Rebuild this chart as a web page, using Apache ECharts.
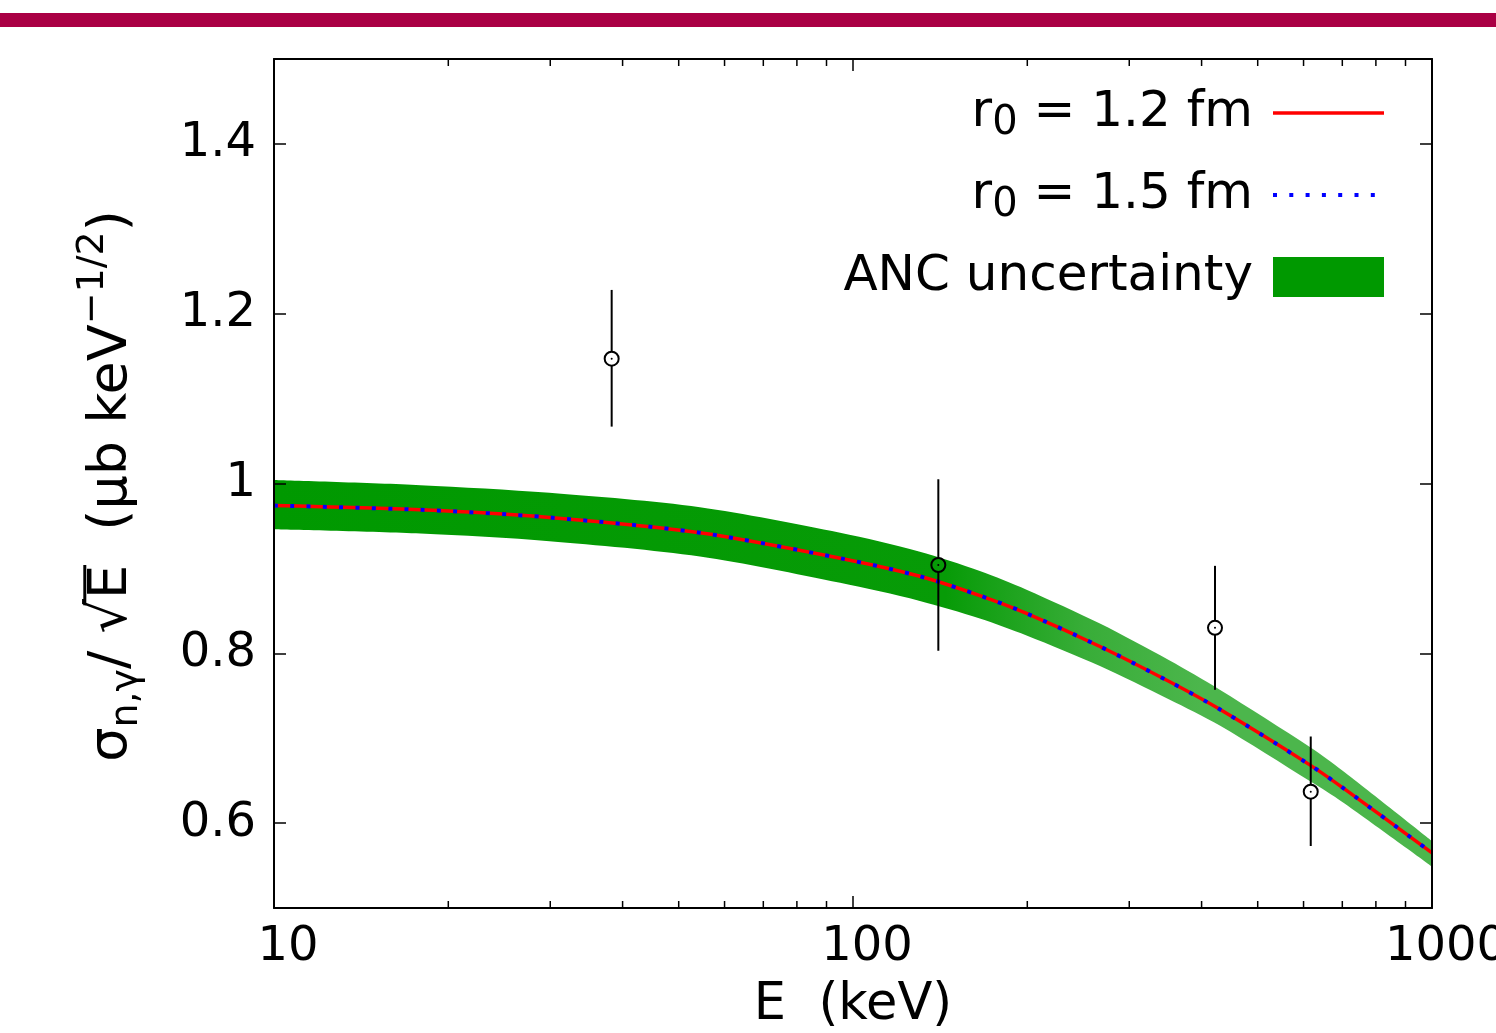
<!DOCTYPE html>
<html>
<head>
<meta charset="utf-8">
<script src="https://cdn.jsdelivr.net/npm/echarts@6/dist/echarts.min.js"></script>
<style>
html,body{margin:0;padding:0;background:#fff;}
#chart{width:1496px;height:1033px;}
</style>
</head>
<body>
<div id="chart"></div>
<script>
// ---- data ----
const energy    = [10, 17.9, 29.9, 54.4, 95, 130, 165.6, 199.4, 267, 351, 430, 617, 700, 1000];
const sigmaR12  = [0.974, 0.969, 0.960, 0.942, 0.912, 0.891, 0.868, 0.847, 0.808, 0.767, 0.734, 0.668, 0.642, 0.565];
const sigmaR15  = [0.974, 0.969, 0.960, 0.942, 0.912, 0.891, 0.868, 0.847, 0.808, 0.767, 0.734, 0.668, 0.642, 0.565];
const bandUpper = [1.004, 0.998, 0.989, 0.972, 0.942, 0.920, 0.897, 0.875, 0.835, 0.792, 0.757, 0.689, 0.662, 0.579];
const bandLower = [0.946, 0.941, 0.932, 0.914, 0.883, 0.862, 0.841, 0.821, 0.785, 0.746, 0.715, 0.649, 0.625, 0.549];

const expEnergy = [38.3, 140.4, 421.9, 617.4];
const expValue  = [1.147, 0.904, 0.830, 0.637];
const expLow    = [1.067, 0.803, 0.757, 0.573];
const expHigh   = [1.228, 1.005, 0.903, 0.702];

const xMinorTicks = [20, 30, 40, 50, 60, 70, 80, 90, 200, 300, 400, 500, 600, 700, 800, 900];
const yTicks = [0.6, 0.8, 1, 1.2, 1.4];

const legendLabels = ['1.2 fm', '1.5 fm', 'ANC uncertainty'];
const xTitle = 'E  (keV)';

// ---- helpers ----
const FONT = '"DejaVu Sans", sans-serif';
const mctx = document.createElement('canvas').getContext('2d');
function tw(t, s) { mctx.font = s + 'px "DejaVu Sans"'; return mctx.measureText(t).width; }

const chart = echarts.init(document.getElementById('chart'), null, {renderer: 'canvas'});

const X_MIN = 10, X_MAX = 1000, Y_MIN = 0.5, Y_MAX = 1.5;
const SMOOTH = 0.3;

// y-axis title, built from pieces (rotated group)
function buildYTitle() {
  const M = 54, S = 38;
  const parts = [
    {t: 'σ', s: M, dy: 0},
    {t: 'n,γ', s: S, dy: 11},
    {t: '/ ', s: M, dy: 0},
    {t: '√', s: M, dy: 0, root: true},
    {t: 'E', s: M, dy: 0, over: true},
    {t: '  (μb keV', s: M, dy: 0},
    {t: '−1/2', s: S, dy: -23},
    {t: ')', s: M, dy: 0}
  ];
  let total = 0;
  parts.forEach(p => { p.w = tw(p.t, p.s); total += p.w; });
  let x = -total / 2;
  const children = [];
  let overStart = 0, overEnd = 0;
  parts.forEach(p => {
    children.push({
      type: 'text',
      style: {
        text: p.t, x: x, y: p.dy - 0.3 * p.s,
        fontSize: p.s, fontFamily: FONT, fill: '#000',
        align: 'left', verticalAlign: 'middle',
        textAlign: 'left', textVerticalAlign: 'middle'
      }
    });
    if (p.root) overStart = x + p.w * 0.82;
    if (p.over) overEnd = x + p.w;
    x += p.w;
  });
  children.push({
    type: 'line',
    shape: {x1: overStart, y1: -0.80 * M, x2: overEnd, y2: -0.80 * M},
    style: {stroke: '#000', lineWidth: 3}
  });
  return {type: 'group', x: 128, y: 486, rotation: Math.PI / 2, children: children};
}

function legendText(label, y, withSub) {
  if (withSub) {
    return {
      type: 'text',
      style: {
        text: '{a|r}{b|0}{a| = ' + label + '}',
        x: 1253, y: y,
        align: 'right', verticalAlign: 'middle',
        textAlign: 'right', textVerticalAlign: 'middle',
        fill: '#000',
        rich: {
          a: {fontSize: 50, fontFamily: FONT, fill: '#000', color: '#000', height: 60, verticalAlign: 'middle'},
          b: {fontSize: 40, fontFamily: FONT, fill: '#000', color: '#000', height: 60, padding: [22, 0, 0, 0], verticalAlign: 'middle'}
        }
      }
    };
  }
  return {
    type: 'text',
    style: {
      text: label, x: 1253, y: y,
      fontSize: 50, fontFamily: FONT, fill: '#000',
      align: 'right', verticalAlign: 'middle',
      textAlign: 'right', textVerticalAlign: 'middle'
    }
  };
}

const bandColor = {
  type: 'linear', x: 0, y: 0, x2: 1, y2: 0,
  colorStops: [
    {offset: 0, color: '#009900'},
    {offset: 0.58, color: '#079b07'},
    {offset: 0.70, color: '#38ad38'},
    {offset: 0.80, color: '#4cb64c'},
    {offset: 1, color: '#4cb64c'}
  ]
};

const axisBase = {
  z: 10,
  axisLine: {show: true, onZero: false, lineStyle: {color: '#000', width: 2}},
  splitLine: {show: false}
};

const option = {
  animation: false,
  backgroundColor: '#ffffff',
  textStyle: {fontFamily: FONT},
  grid: {left: 274, right: 64, top: 59, bottom: 125, containLabel: false, outerBoundsMode: 'none'},
  xAxis: [
    Object.assign({}, axisBase, {
      type: 'log', logBase: 10, min: X_MIN, max: X_MAX, position: 'bottom',
      name: xTitle, nameLocation: 'middle', nameGap: 72,
      nameTextStyle: {fontSize: 51, fontFamily: FONT, color: '#000'},
      axisTick: {show: true, inside: true, length: 12, lineStyle: {color: '#000', width: 1.5}},
      axisLabel: {
        show: true, fontSize: 48, fontFamily: FONT, color: '#000', margin: 16,
        padding: [0, 0, 0, 28],
        formatter: v => String(Math.round(v))
      },
      minorTick: {show: false}
    }),
    Object.assign({}, axisBase, {
      type: 'log', logBase: 10, min: X_MIN, max: X_MAX, position: 'top',
      axisTick: {show: true, inside: true, length: 12, lineStyle: {color: '#000', width: 1.5}},
      axisLabel: {show: false}
    })
  ],
  yAxis: [
    Object.assign({}, axisBase, {
      type: 'value', min: Y_MIN, max: Y_MAX, position: 'left',
      axisTick: {show: true, inside: true, length: 12, customValues: yTicks, lineStyle: {color: '#000', width: 1.5}},
      axisLabel: {show: true, customValues: yTicks, fontSize: 48, fontFamily: FONT, color: '#000', margin: 18,
        formatter: v => String(Math.round(v * 10) / 10)}
    }),
    Object.assign({}, axisBase, {
      type: 'value', min: Y_MIN, max: Y_MAX, position: 'right',
      axisTick: {show: true, inside: true, length: 12, customValues: yTicks, lineStyle: {color: '#000', width: 1.5}},
      axisLabel: {show: false}
    })
  ],
  series: [
    {
      name: 'ANC upper',
      type: 'line',
      xAxisIndex: 0, yAxisIndex: 0,
      z: 1,
      data: energy.map((e, i) => [e, bandUpper[i]]),
      smooth: SMOOTH,
      showSymbol: false,
      lineStyle: {width: 0, color: 'transparent'},
      areaStyle: {color: bandColor, opacity: 1, origin: 'start'},
      silent: true
    },
    {
      name: 'ANC lower',
      type: 'line',
      xAxisIndex: 0, yAxisIndex: 0,
      z: 1.5,
      data: energy.map((e, i) => [e, bandLower[i]]),
      smooth: SMOOTH,
      showSymbol: false,
      lineStyle: {width: 0, color: 'transparent'},
      areaStyle: {color: '#ffffff', opacity: 1, origin: 'start'},
      silent: true
    },
    {
      name: 'r0 = 1.2 fm',
      type: 'line',
      xAxisIndex: 0, yAxisIndex: 0,
      z: 3,
      data: energy.map((e, i) => [e, sigmaR12[i]]),
      smooth: SMOOTH,
      showSymbol: false,
      lineStyle: {color: '#ff0000', width: 3.5}
    },
    {
      name: 'r0 = 1.5 fm',
      type: 'line',
      xAxisIndex: 0, yAxisIndex: 0,
      z: 4,
      data: energy.map((e, i) => [e, sigmaR15[i]]),
      smooth: SMOOTH,
      showSymbol: false,
      lineStyle: {color: '#0000ff', width: 4, type: [4, 12.3], cap: 'butt'}
    },
    {
      name: 'data',
      type: 'custom',
      xAxisIndex: 0, yAxisIndex: 0,
      z: 5,
      data: expEnergy.map((e, i) => [e, expValue[i], expLow[i], expHigh[i]]),
      encode: {x: 0, y: [1, 2, 3]},
      renderItem: function (params, api) {
        const p = api.coord([api.value(0), api.value(1)]);
        const hi = api.coord([api.value(0), api.value(3)]);
        const lo = api.coord([api.value(0), api.value(2)]);
        const r = 7;
        const st = {stroke: '#000', lineWidth: 2};
        return {
          type: 'group',
          children: [
            {type: 'line', shape: {x1: p[0], y1: hi[1], x2: p[0], y2: p[1] - r}, style: st},
            {type: 'line', shape: {x1: p[0], y1: p[1] + r, x2: p[0], y2: lo[1]}, style: st},
            {type: 'circle', shape: {cx: p[0], cy: p[1], r: r}, style: {fill: null, stroke: '#000', lineWidth: 2}},
            {type: 'circle', shape: {cx: p[0], cy: p[1], r: 1}, style: {fill: '#000'}}
          ]
        };
      }
    },
    {
      name: 'minor ticks',
      type: 'custom',
      xAxisIndex: 0, yAxisIndex: 0,
      z: 20,
      silent: true,
      data: xMinorTicks.map(v => [v, Y_MIN]),
      encode: {x: 0, y: 1},
      renderItem: function (params, api) {
        const v = api.value(0);
        const b = api.coord([v, Y_MIN]);
        const t = api.coord([v, Y_MAX]);
        const st = {stroke: '#000', lineWidth: 1.5};
        return {
          type: 'group',
          children: [
            {type: 'line', shape: {x1: b[0], y1: b[1], x2: b[0], y2: b[1] - 7}, style: st},
            {type: 'line', shape: {x1: t[0], y1: t[1], x2: t[0], y2: t[1] + 7}, style: st}
          ]
        };
      }
    }
  ],
  graphic: [
    {type: 'rect', shape: {x: 0, y: 13, width: 1496, height: 14}, style: {fill: '#aa0044'}, z: 10},
    legendText(legendLabels[0], 113, true),
    {type: 'line', shape: {x1: 1273, y1: 113, x2: 1384, y2: 113}, style: {stroke: '#ff0000', lineWidth: 3.5}},
    legendText(legendLabels[1], 195, true),
    {type: 'line', shape: {x1: 1273, y1: 195, x2: 1384, y2: 195}, style: {stroke: '#0000ff', lineWidth: 4, lineDash: [4, 12.3]}},
    legendText(legendLabels[2], 277, false),
    {type: 'rect', shape: {x: 1273, y: 257, width: 111, height: 40}, style: {fill: '#009900'}},
    buildYTitle()
  ]
};

chart.setOption(option);
</script>
</body>
</html>
